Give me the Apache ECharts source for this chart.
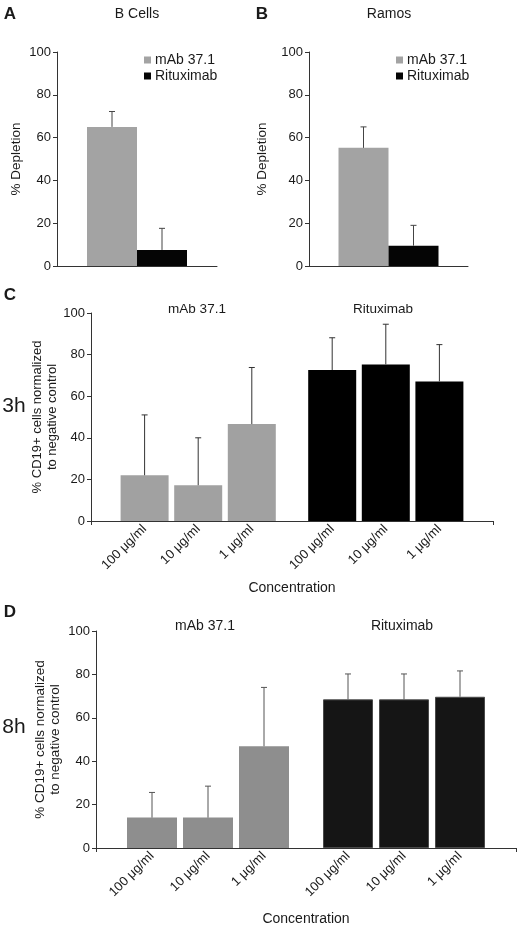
<!DOCTYPE html>
<html>
<head>
<meta charset="utf-8">
<script src="https://cdn.jsdelivr.net/npm/echarts@6/dist/echarts.min.js"></script>
<style>
    html, body { margin: 0; padding: 0; background: #fff; }
    #chart { width: 520px; height: 929px; }
</style>
</head>
<body>
<div id="chart"></div>
<script>
// panels A and B: one category, two antibodies side by side
const antibodies = ['mAb 37.1', 'Rituximab'];
const bCellsMean = [65, 7.5];
const bCellsTop = [72.2, 17.6];
const ramosMean = [55.2, 9.5];
const ramosTop = [65, 19];

// panels C and D: three concentrations per antibody
const concentrations = ['100 μg/ml', '10 μg/ml', '1 μg/ml'];
const mab3h = [22, 17.2, 46.6];
const mab3hTop = [51, 40, 73.8];
const rit3h = [72.6, 75.3, 67.1];
const rit3hTop = [88.1, 94.6, 84.8];
const mab8h = [14, 14, 46.9];
const mab8hTop = [25.6, 28.5, 74];
const rit8h = [68.5, 68.5, 69.7];
const rit8hTop = [80.2, 80.2, 81.6];

// slot positions on the concentration axis (gap between the two groups)
const slotCount = 16;
const mabSlots = [2, 4, 6];
const ritSlots = [9, 11, 13];

const FONT = 'Liberation Sans, Arial, sans-serif';
const TXT = '#1a1a1a';

function slotData(slots, values) {
    const arr = new Array(slotCount).fill('-');
    slots.forEach((s, i) => { arr[s] = values[i]; });
    return arr;
}

function slotLabels() {
    const arr = new Array(slotCount).fill('');
    mabSlots.forEach((s, i) => { arr[s] = concentrations[i]; });
    ritSlots.forEach((s, i) => { arr[s] = concentrations[i]; });
    return arr;
}

function errorItems(slots, means, tops) {
    return slots.map((s, i) => [s, means[i], tops[i]]);
}

/**
 * upward error bar with a small cap
 */
function errorBar(stroke, offsets) {
    return (params, api) => {
        const x = api.value(0);
        const lo = api.coord([x, api.value(1)]);
        const hi = api.coord([x, api.value(2)]);
        const cx = lo[0] + (offsets ? offsets[params.dataIndex] : 0);
        const style = { stroke, lineWidth: 1 };
        return {
            type: 'group',
            children: [
                { type: 'line', shape: { x1: cx, y1: lo[1], x2: cx, y2: hi[1] }, style },
                { type: 'line', shape: { x1: cx - 3, y1: hi[1], x2: cx + 3, y2: hi[1] }, style }
            ]
        };
    };
}

function yAxis(gridIndex, name, nameGap, nameSize, noMove) {
    return {
        type: 'value',
        gridIndex,
        min: 0,
        max: 100,
        interval: 20,
        name,
        nameLocation: 'middle',
        nameGap,
        nameMoveOverlap: !noMove,
        nameTextStyle: { fontFamily: FONT, fontSize: nameSize, color: TXT, lineHeight: 15 },
        axisLine: { show: true, lineStyle: { color: '#333', width: 1 } },
        axisTick: { show: true, length: 4, lineStyle: { color: '#333' } },
        axisLabel: { fontFamily: FONT, fontSize: 13, color: TXT, margin: 6 },
        splitLine: { show: false }
    };
}

const grids = [
    { left: 57, top: 52, width: 160, height: 214 },
    { left: 309, top: 52, width: 159, height: 214 },
    { left: 91, top: 313, width: 402, height: 208 },
    { left: 96, top: 631, width: 420, height: 217 }
];

const xAxes = [
    {
        type: 'category', gridIndex: 0, data: [''],
        axisLine: { lineStyle: { color: '#333' } },
        axisTick: { length: 4, lineStyle: { color: '#333' } },
        axisLabel: { show: false }
    },
    {
        type: 'category', gridIndex: 1, data: [''],
        axisLine: { lineStyle: { color: '#333' } },
        axisTick: { length: 4, lineStyle: { color: '#333' } },
        axisLabel: { show: false }
    }
];

[2, 3].forEach((g, k) => {
    xAxes.push({
        type: 'category',
        gridIndex: g,
        data: slotLabels(),
        boundaryGap: false,
        name: 'Concentration',
        nameLocation: 'middle',
        nameGap: k === 0 ? 60 : 64,
        nameTextStyle: { fontFamily: FONT, fontSize: 14, color: TXT },
        axisLine: { lineStyle: { color: '#333' } },
        axisTick: {
            length: 4,
            interval: (i) => i === 0 || i === slotCount - 1,
            lineStyle: { color: '#333' }
        },
        axisLabel: {
            interval: 0,
            rotate: 45,
            margin: 6,
            fontFamily: FONT,
            fontSize: 13,
            color: TXT
        }
    });
});

const yAxes = [
    yAxis(0, '% Depletion', 33, 13.5),
    yAxis(1, '% Depletion', 39, 13.5),
    yAxis(2, '% CD19+ cells normalized\nto negative control', 31, 13, true),
    yAxis(3, '% CD19+ cells normalized\nto negative control', 33, 13.5, true)
];

function pairSeries(idx, means, tops, errColor) {
    return [
        {
            name: antibodies[0], type: 'bar', xAxisIndex: idx, yAxisIndex: idx,
            barWidth: 50, barGap: 0,
            itemStyle: { color: '#a3a3a3' },
            data: [means[0]]
        },
        {
            name: antibodies[1], type: 'bar', xAxisIndex: idx, yAxisIndex: idx,
            barWidth: 50, barGap: 0,
            itemStyle: { color: '#050505' },
            data: [means[1]]
        },
        {
            type: 'custom', xAxisIndex: idx, yAxisIndex: idx, z: 5,
            renderItem: errorBar(errColor, [-25, 25]),
            data: [[0, means[0], tops[0]], [0, means[1], tops[1]]]
        }
    ];
}

function concSeries(idx, tag, mab, mabTop, rit, ritTop, opts) {
    return [
        {
            name: 'mAb 37.1 ' + tag, type: 'bar', xAxisIndex: idx, yAxisIndex: idx,
            stack: tag, barWidth: opts.barWidth,
            itemStyle: { color: opts.gray },
            data: slotData(mabSlots, mab)
        },
        {
            name: 'Rituximab ' + tag, type: 'bar', xAxisIndex: idx, yAxisIndex: idx,
            stack: tag, barWidth: opts.barWidth,
            itemStyle: { color: opts.black, borderColor: opts.blackBorder, borderWidth: opts.blackBorder ? 1 : 0 },
            data: slotData(ritSlots, rit)
        },
        {
            type: 'custom', xAxisIndex: idx, yAxisIndex: idx, z: 5,
            renderItem: errorBar(opts.err),
            data: errorItems(mabSlots, mab, mabTop).concat(errorItems(ritSlots, rit, ritTop))
        }
    ];
}

const series = [].concat(
    pairSeries(0, bCellsMean, bCellsTop, '#444'),
    pairSeries(1, ramosMean, ramosTop, '#444'),
    concSeries(2, '3h', mab3h, mab3hTop, rit3h, rit3hTop,
        { barWidth: 48, gray: '#a1a1a1', black: '#000', err: '#333' }),
    concSeries(3, '8h', mab8h, mab8hTop, rit8h, rit8hTop,
        { barWidth: 50, gray: '#8e8e8e', black: '#151515', blackBorder: '#4a4a4a', err: '#555' })
);

function legend(left, top) {
    return {
        left, top,
        orient: 'vertical',
        data: antibodies,
        icon: 'rect',
        itemWidth: 7,
        itemHeight: 7,
        itemGap: 2,
        selectedMode: false,
        textStyle: { fontFamily: FONT, fontSize: 14, color: TXT, padding: [0, 0, 0, -1] }
    };
}

function text(x, y, str, size, weight) {
    return {
        type: 'text', x, y,
        style: {
            text: str,
            font: `${weight || 'normal'} ${size}px ${FONT}`,
            fill: TXT,
            textAlign: 'center',
            textVerticalAlign: 'middle'
        }
    };
}

const graphics = [
    text(10, 14, 'A', 17, 'bold'),
    text(262, 14, 'B', 17, 'bold'),
    text(10, 295, 'C', 17, 'bold'),
    text(10, 612, 'D', 17, 'bold'),
    text(137, 14, 'B Cells', 14),
    text(389, 14, 'Ramos', 14),
    text(197, 309, 'mAb 37.1', 13.5),
    text(383, 309, 'Rituximab', 13.5),
    text(205, 626, 'mAb 37.1', 14),
    text(402, 626, 'Rituximab', 14),
    text(14, 406, '3h', 21),
    text(14, 727, '8h', 21)
];

const chart = echarts.init(document.getElementById('chart'), null, { renderer: 'canvas' });
chart.setOption({
    animation: false,
    backgroundColor: '#fff',
    textStyle: { fontFamily: FONT },
    grid: grids,
    xAxis: xAxes,
    yAxis: yAxes,
    legend: [legend(139, 48), legend(391, 48)],
    graphic: graphics,
    series
});
</script>
</body>
</html>
